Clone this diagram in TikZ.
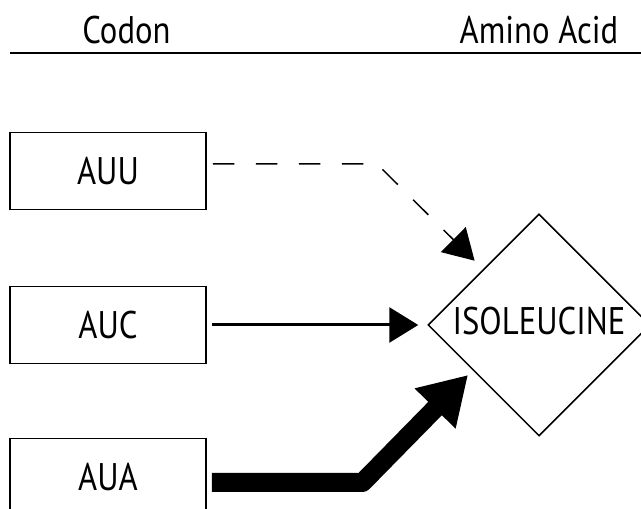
\documentclass[tikz,border=0pt]{standalone}
\usepackage{fontspec}
\setmainfont{PT Sans}[FakeStretch=0.85]
\usetikzlibrary{arrows.meta,shapes.geometric}
\tikzset{
  lbl/.style={font=\fontsize{38.5}{40}\selectfont},
  codonbox/.style={draw, line width=1.5pt, minimum width=196pt, minimum height=77pt, inner sep=0pt, lbl},
  aminodia/.style={draw, diamond, aspect=1, line width=1.5pt, minimum width=222pt, minimum height=222pt, inner sep=0pt, text depth=9pt, lbl},
  dashconn/.style={line width=1.5pt, dash pattern=on 21.5pt off 21.5pt, -{Triangle[length=30pt,width=35pt]}},
  thinconn/.style={line width=3pt, -{Triangle[length=29pt,width=35pt]}},
  thickconn/.style={line width=19pt, line join=round, -{Triangle[length=47pt,width=54pt]}}
}
\begin{document}
\begin{tikzpicture}[x=1pt,y=1pt]
\useasboundingbox (0,0) rectangle (641,509);
\clip (0,0) rectangle (641,509);
% header
\node[lbl, anchor=base] (hcodon) at (126.5,465.5) {Codon};
\node[lbl, anchor=base] (hamino) at (539,465.5) {Amino Acid};
\coordinate (ruleL) at (10,456);
\coordinate (ruleR) at (641,456);
\draw[line width=2pt] (ruleL) -- (ruleR);
% nodes
\node[codonbox] (auu) at (108,338) {AUU};
\node[codonbox] (auc) at (108,184) {AUC};
\node[codonbox] (aua) at (108,32) {AUA};
\node[aminodia] (iso) at (539,184) {ISOLEUCINE};
% connectors
\coordinate (bendA) at (377,345);
\draw[dashconn, shorten <=6pt, shorten >=12pt] ([yshift=7pt]auu.east) -- (bendA) -- (iso.north west);
\draw[thinconn, shorten <=5pt, shorten >=9pt] (auc.east) -- (iso.west);
\coordinate (bendC) at (362.5,26.5);
\coordinate (tipC) at (468,134);
\draw[thickconn, shorten <=5pt] ([yshift=-5.5pt]aua.east) -- (bendC) -- (tipC);
\end{tikzpicture}
\end{document}
